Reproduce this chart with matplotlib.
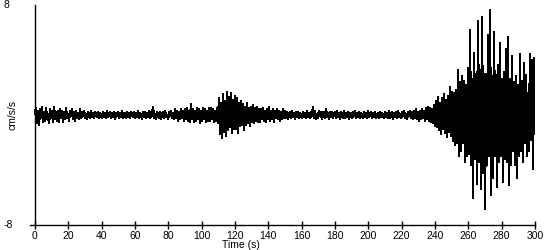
import numpy as np
import matplotlib
matplotlib.use("Agg")
import matplotlib.pyplot as plt

# acceleration trace, one value every 0.6 s (cm/s/s)
dt = 0.6
accel_rows = [
    [0.1, 0.5, -0.6, 0.3, -0.7, 0.4, -0.2, 0.6, -0.5, 0.2, -0.4, 0.5, -0.3, 0.1, -0.6, 0.4, -0.2, 0.3, -0.5, 0.6, -0.3, 0.2, -0.4, 0.3, -0.5],
    [0.4, -0.2, 0.3, -0.5, 0.2, -0.3, 0.5, -0.2, 0.1, -0.4, 0.3, -0.1, 0.4, -0.3, 0.2, -0.4, 0.3, -0.2, 0.1, -0.3, 0.4, -0.2, 0.2, -0.1, 0.3],
    [-0.2, 0.1, -0.3, 0.2, 0.0, -0.2, 0.3, -0.1, 0.1, -0.2, 0.2, 0.0, -0.1, 0.2, -0.2, 0.1, 0.0, -0.2, 0.2, -0.1, 0.1, -0.2, 0.3, -0.1, 0.0],
    [0.2, -0.2, 0.1, -0.1, 0.2, -0.3, 0.1, 0.0, 0.2, -0.2, 0.1, -0.1, 0.3, -0.2, 0.0, 0.1, -0.2, 0.2, -0.1, 0.1, -0.2, 0.2, 0.0, -0.1, 0.2],
    [-0.2, 0.1, -0.1, 0.3, -0.2, 0.1, 0.0, -0.3, 0.2, -0.1, 0.2, -0.2, 0.1, -0.1, 0.3, -0.2, 0.2, -0.1, 0.6, -0.2, 0.1, -0.3, 0.2, 0.0, -0.2],
    [0.2, -0.3, 0.1, 0.2, -0.2, 0.3, -0.1, 0.0, -0.3, 0.2, -0.1, 0.3, -0.2, 0.1, -0.3, 0.4, -0.2, 0.3, -0.4, 0.2, -0.3, 0.4, -0.2, 0.3, -0.4],
    [0.4, -0.3, 0.5, -0.4, 0.3, -0.5, 0.8, -0.3, 0.4, -0.5, 0.3, -0.4, 0.5, -0.3, 0.4, -0.6, 0.3, -0.4, 0.5, -0.3, 0.4, -0.5, 0.3, -0.4, 0.5],
    [-0.4, 0.5, -0.3, 0.4, -0.5, 0.3, -0.4, 0.5, -0.6, 1.2, -1.4, 0.9, -1.7, 1.5, -1.2, 1.0, -1.5, 1.7, -1.1, 1.3, -0.9, 1.6, -1.3, 1.1, -1.0],
    [1.4, -1.0, 1.2, -1.3, 0.9, -0.8, 1.0, -0.7, 0.8, -1.1, 0.6, -0.7, 0.9, -0.6, 0.5, -0.8, 0.6, -0.5, 0.7, -0.6, 0.5, -0.4, 0.6, -0.5, 0.4],
    [-0.5, 0.4, -0.3, 0.5, -0.4, 0.3, -0.5, 0.4, -0.3, 0.6, -0.4, 0.3, -0.3, 0.4, -0.5, 0.3, -0.2, 0.4, -0.3, 0.3, -0.4, 0.2, -0.3, 0.4, -0.2],
    [0.3, -0.2, 0.2, -0.3, 0.1, 0.2, -0.2, 0.3, -0.1, 0.1, -0.3, 0.2, -0.1, 0.2, -0.2, 0.1, 0.0, -0.2, 0.2, -0.1, 0.1, -0.2, 0.3, -0.1, 0.1],
    [-0.2, 0.2, -0.1, 0.6, -0.2, 0.3, -0.3, 0.1, -0.2, 0.3, -0.1, 0.2, -0.3, 0.2, 0.0, -0.2, 0.4, -0.1, 0.1, -0.3, 0.2, -0.1, 0.2, -0.2, 0.1],
    [0.2, -0.2, 0.3, -0.1, 0.1, -0.3, 0.2, 0.0, -0.2, 0.3, -0.2, 0.1, -0.1, 0.2, -0.3, 0.1, 0.1, -0.2, 0.2, -0.1, 0.3, -0.2, 0.1, -0.1, 0.2],
    [-0.2, 0.1, 0.0, -0.2, 0.2, -0.1, 0.1, -0.2, 0.3, -0.1, 0.0, 0.2, -0.2, 0.1, -0.1, 0.2, -0.2, 0.0, 0.1, -0.2, 0.2, -0.1, 0.1, 0.0, -0.2],
    [0.2, -0.1, 0.1, -0.2, 0.3, -0.2, 0.0, 0.2, -0.3, 0.1, -0.1, 0.2, -0.2, 0.3, -0.1, 0.0, -0.2, 0.2, -0.1, 0.3, -0.2, 0.1, -0.3, 0.2, -0.1],
    [0.3, -0.2, 0.2, -0.3, 0.3, -0.2, 0.4, -0.3, 0.2, -0.4, 0.3, -0.3, 0.4, -0.2, 0.3, -0.4, 0.5, -0.3, 0.6, -0.4, 0.5, -0.5, 0.4, -0.6, 0.7],
    [-0.8, 1.0, -0.9, 1.3, -1.1, 0.9, -1.4, 1.2, -1.0, 1.5, -1.3, 1.1, -1.6, 1.4, -1.2, 2.0, -1.5, 1.7, -1.9, 1.6, -2.2, 1.8, -2.0, 3.3, -3.0],
    [2.4, -2.6, 2.8, -2.0, 2.5, -3.4, 2.2, -3.0, 3.4, -2.8, 6.2, -3.6, 2.6, -6.0, 4.5, -3.2, 3.0, -5.0, 6.8, -3.4, 3.2, -5.4, 7.1, -4.2, 3.0],
    [-6.8, 3.0, -3.6, 5.8, -3.0, 7.6, -5.8, 2.8, -4.6, 6.0, -3.0, 2.9, -5.2, 3.6, -3.4, 5.2, -3.0, 2.6, -4.9, 3.1, -3.2, 4.8, -3.4, 5.7, -5.1],
    [2.6, -3.6, 4.3, -2.6, 2.4, -3.6, 2.8, -4.6, 2.2, -3.0, 4.4, -2.6, 2.5, -3.4, 3.8, -2.0, 2.9, -3.0, 1.6, -2.6, 4.4, -1.8, 4.0, -3.9, 4.1],
]
accel = np.concatenate([np.array(r) for r in accel_rows])
time_s = np.arange(len(accel)) * dt

x_ticks = list(range(0, 301, 20))
y_labels = ["8", "-8"]

plt.rcParams['font.family'] = ['Liberation Sans', 'DejaVu Sans']

fig = plt.figure(figsize=(5.5, 2.5), dpi=100)
ax = fig.add_axes([30/550, 25/250, 505/550, 220/250])

# no antialiasing, the reference trace is drawn with hard pixels
ax.plot(time_s, accel, color='black', linewidth=1.0, antialiased=False)

ax.set_xlim(-3, 300)
ax.set_ylim(-8, 8)
ax.spines['top'].set_visible(False)
ax.spines['right'].set_visible(False)
ax.spines['left'].set_position(('data', 0))
ax.spines['left'].set_linewidth(1)
ax.spines['bottom'].set_linewidth(1)

ax.set_xticks(x_ticks)
ax.set_xticklabels([str(v) for v in x_ticks], fontsize=7.5)
ax.tick_params(axis='x', direction='inout', length=6, width=1, pad=1)
ax.set_yticks([])

# y extremes and labels sit at the far left edge
fig.text(4/550, 1 - 5/250, y_labels[0], fontsize=7.5, ha='left', va='center')
fig.text(4/550, 1 - 225/250, y_labels[1], fontsize=7.5, ha='left', va='center')
fig.text(13/550, 1 - 115/250, "cm/s/s", fontsize=7.5, rotation=90, ha='center', va='center')
fig.text(241/550, 1 - 245/250, "Time (s)", fontsize=7.5, ha='center', va='center')

fig.savefig("out.png", dpi=100)
plt.close('all')
